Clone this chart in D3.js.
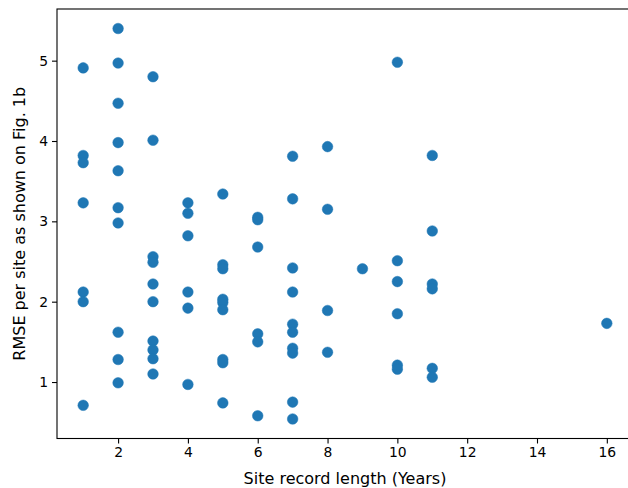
<!DOCTYPE html>
<html>
<head>
<meta charset="utf-8">
<script src="https://cdn.jsdelivr.net/npm/d3@7"></script>
<style>
  html, body { margin: 0; padding: 0; background: #fff; }
  svg { display: block; }
</style>
</head>
<body>
<svg id="chart" width="628" height="488"></svg>
<script>
// Site record length (years)
const years = [
  1, 1, 1, 1, 1, 1, 1,
  2, 2, 2, 2, 2, 2, 2, 2, 2, 2,
  3, 3, 3, 3, 3, 3, 3, 3, 3, 3,
  4, 4, 4, 4, 4, 4,
  5, 5, 5, 5, 5, 5, 5, 5, 5,
  6, 6, 6, 6, 6, 6,
  7, 7, 7, 7, 7, 7, 7, 7, 7, 7,
  8, 8, 8, 8,
  9,
  10, 10, 10, 10, 10, 10,
  11, 11, 11, 11, 11, 11,
  16
];
// RMSE per site
const rmse = [
  4.91, 3.82, 3.73, 3.23, 2.12, 2.00, 0.71,
  5.40, 4.97, 4.47, 3.98, 3.63, 3.17, 2.98, 1.62, 1.28, 0.99,
  4.80, 4.01, 2.56, 2.49, 2.22, 2.00, 1.51, 1.40, 1.29, 1.10,
  3.23, 3.10, 2.82, 2.12, 1.92, 0.97,
  3.34, 2.46, 2.41, 2.03, 1.99, 1.90, 1.28, 1.24, 0.74,
  3.05, 3.02, 2.68, 1.60, 1.50, 0.58,
  3.81, 3.28, 2.42, 2.12, 1.72, 1.62, 1.42, 1.36, 0.75, 0.54,
  3.93, 3.15, 1.89, 1.37,
  2.41,
  4.98, 2.51, 2.25, 1.85, 1.21, 1.16,
  3.82, 2.88, 2.22, 2.16, 1.17, 1.06,
  1.73
];
const xTicks = [2, 4, 6, 8, 10, 12, 14, 16];
const yTicks = [1, 2, 3, 4, 5];
const xLabel = "Site record length (Years)";
const yLabel = "RMSE per site as shown on Fig. 1b";

const points = years.map((v, i) => ({ x: v, y: rmse[i] }));

const svg = d3.select("#chart");
const mLeft = 57, mRight = 633, mTop = 9, mBottom = 438.5;

const xExt = d3.extent(years), yExt = d3.extent(rmse);
const xPad = (xExt[1] - xExt[0]) * 0.05, yPad = (yExt[1] - yExt[0]) * 0.05;
const x = d3.scaleLinear().domain([xExt[0] - xPad, xExt[1] + xPad]).range([mLeft, mRight]);
const y = d3.scaleLinear().domain([yExt[0] - yPad, yExt[1] + yPad]).range([mBottom, mTop]);

const font = "'DejaVu Sans', sans-serif";

// points
svg.append("g").selectAll("circle").data(points).join("circle")
  .attr("cx", d => x(d.x))
  .attr("cy", d => y(d.y))
  .attr("r", 5.3)
  .attr("fill", "#1f77b4")
  .attr("stroke", "#1f77b4")
  .attr("stroke-width", 0.5);

// spines
svg.append("rect")
  .attr("x", mLeft).attr("y", mTop)
  .attr("width", mRight - mLeft).attr("height", mBottom - mTop)
  .attr("fill", "none").attr("stroke", "#000").attr("stroke-width", 1.1);

// axes
const xAxis = d3.axisBottom(x).tickValues(xTicks).tickSize(5).tickPadding(4).tickFormat(d3.format("d"));
const gx = svg.append("g").attr("transform", `translate(0,${mBottom})`).call(xAxis);
const yAxis = d3.axisLeft(y).tickValues(yTicks).tickSize(5).tickPadding(4).tickFormat(d3.format("d"));
const gy = svg.append("g").attr("transform", `translate(${mLeft},0)`).call(yAxis);
[gx, gy].forEach(g => {
  g.select(".domain").remove();
  g.selectAll(".tick line").attr("stroke", "#000").attr("stroke-width", 1.1);
  g.selectAll(".tick text").attr("fill", "#000").style("font-family", font).style("font-size", "13.9px");
});

// labels
svg.append("text")
  .attr("x", (mLeft + mRight) / 2).attr("y", 484)
  .attr("text-anchor", "middle")
  .style("font-family", font).style("font-size", "16px")
  .text(xLabel);
svg.append("text")
  .attr("transform", `translate(25,${(mTop + mBottom) / 2}) rotate(-90)`)
  .attr("text-anchor", "middle")
  .style("font-family", font).style("font-size", "16px")
  .text(yLabel);
</script>
</body>
</html>
